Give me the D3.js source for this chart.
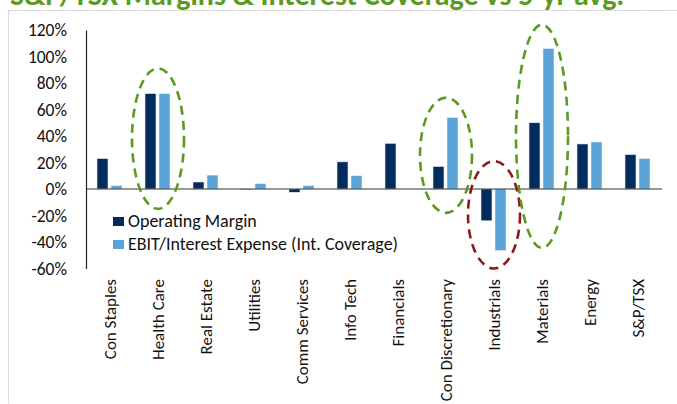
<!DOCTYPE html>
<html>
<head>
<meta charset="utf-8">
<script src="https://cdn.jsdelivr.net/npm/d3@7"></script>
<style>
  body { margin: 0; background: #fff; }
  svg { display: block; }
  text { font-family: Carlito, Calibri, 'Open Sans', sans-serif; }
</style>
</head>
<body>
<div id="chart"></div>
<script>

var categories = ['Con Staples', 'Health Care', 'Real Estate', 'Utilities', 'Comm Services', 'Info Tech',
                  'Financials', 'Con Discretionary', 'Industrials', 'Materials', 'Energy', 'S&P/TSX'];
var operatingMargin = [23, 72, 5.3, -0.5, -2.5, 20.5, 34.5, 17, -24, 50, 34, 26];
var intCoverage = [2.5, 72, 10.5, 4, 2.5, 10, 0, 54, -46.5, 106, 35.5, 23];
var seriesNames = ['Operating Margin', 'EBIT/Interest Expense (Int. Coverage)'];
var yTicks = [-60, -40, -20, 0, 20, 40, 60, 80, 100, 120];

// dashed circles drawn over some categories (top / bottom in % units)
var highlights = [
  { category: 'Health Care', top: 91, bottom: -15, color: '#5b9a1f' },
  { category: 'Con Discretionary', top: 69, bottom: -18, color: '#5b9a1f' },
  { category: 'Industrials', top: 21, bottom: -60, color: '#8b1a1a' },
  { category: 'Materials', top: 124, bottom: -44.5, color: '#5b9a1f' }
];

var width = 677;
var height = 404;
var colors = ['#022c5e', '#5ba3d8'];

var svg = d3.select('#chart').append('svg')
    .attr('width', width)
    .attr('height', height);

// dotted frame round the chart
svg.append('rect')
    .attr('x', 8.5)
    .attr('y', 10.5)
    .attr('width', 700)
    .attr('height', 420)
    .attr('fill', 'none')
    .attr('stroke', '#c8c8c8')
    .attr('stroke-dasharray', '2,1');

// title, mostly cut off by the top edge (as in the source screenshot)
svg.append('text')
    .attr('x', 10)
    .attr('y', 5)
    .attr('fill', '#5b9a1f')
    .attr('font-weight', 'bold')
    .attr('font-size', 30)
    .text('S&P/TSX Margins & Interest Coverage vs 5-yr avg.');

var x0 = d3.scaleBand()
    .domain(categories)
    .range([86, 662]);

var x1 = d3.scaleBand()
    .domain([0, 1])
    .range([11, 36])
    .paddingInner(0.214);

var y = d3.scaleLinear()
    .domain([-60, 120])
    .range([268.5, 30]);

// y axis
var yAxis = svg.append('g')
    .attr('transform', 'translate(86,0)')
    .call(d3.axisLeft(y).tickValues(yTicks).tickSize(0).tickPadding(19)
        .tickFormat(function(d){ return d + '%'; }));
yAxis.select('.domain').attr('stroke', '#222').attr('stroke-width', 1.2);
yAxis.selectAll('text')
    .attr('font-size', 17.5)
    .attr('fill', '#111')
    .style('font-family', "Carlito, Calibri, 'Open Sans', sans-serif");

// bars
var rows = categories.map(function(c, i){ return { category: c, values: [operatingMargin[i], intCoverage[i]] }; });

var groups = svg.append('g').selectAll('g')
    .data(rows)
    .join('g')
    .attr('transform', function(d){ return 'translate(' + x0(d.category) + ',0)'; });

groups.selectAll('rect')
    .data(function(d){ return d.values.map(function(v, k){ return { k: k, v: v }; }); })
    .join('rect')
    .attr('x', function(d){ return x1(d.k); })
    .attr('width', x1.bandwidth())
    .attr('y', function(d){ return y(Math.max(0, d.v)); })
    .attr('height', function(d){ return Math.abs(y(d.v) - y(0)); })
    .attr('fill', function(d){ return colors[d.k]; })
    .attr('stroke', '#e8eef6')
    .attr('stroke-width', 0.6);

// zero line
svg.append('line')
    .attr('x1', 86)
    .attr('x2', 662)
    .attr('y1', y(0))
    .attr('y2', y(0))
    .attr('stroke', '#333')
    .attr('stroke-width', 1.2);

// x labels, rotated
svg.append('g').selectAll('text')
    .data(categories)
    .join('text')
    .attr('transform', function(d){ return 'translate(' + (x0(d) + x0.bandwidth() / 2 + 6) + ',279) rotate(-90)'; })
    .attr('text-anchor', 'end')
    .attr('font-size', 17)
    .attr('fill', '#111')
    .text(function(d){ return d; });

// highlight ellipses
svg.append('g').selectAll('ellipse')
    .data(highlights)
    .join('ellipse')
    .attr('cx', function(d){ return x0(d.category) + x0.bandwidth() / 2; })
    .attr('cy', function(d){ return (y(d.top) + y(d.bottom)) / 2; })
    .attr('rx', 26)
    .attr('ry', function(d){ return (y(d.bottom) - y(d.top)) / 2; })
    .attr('fill', 'none')
    .attr('stroke', function(d){ return d.color; })
    .attr('stroke-width', 2.6)
    .attr('stroke-dasharray', '9,6');

// legend
var legend = svg.append('g').selectAll('g')
    .data(seriesNames)
    .join('g')
    .attr('transform', function(d, i){ return 'translate(113,' + (217 + i * 23) + ')'; });

legend.append('rect')
    .attr('width', 11)
    .attr('height', 9)
    .attr('fill', function(d, i){ return colors[i]; });

legend.append('text')
    .attr('x', 15)
    .attr('y', 9.5)
    .attr('font-size', 18)
    .attr('fill', '#111')
    .text(function(d){ return d; });

</script>
</body>
</html>
